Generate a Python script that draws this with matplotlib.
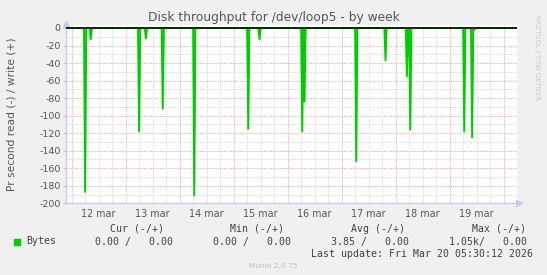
"""Munin style weekly disk throughput graph for /dev/loop5."""

import numpy as np
import matplotlib

matplotlib.use("Agg")
import matplotlib.pyplot as plt

# spikes of the read series: time in days after 12 mar 00:00, value (negated)
spike_days = [0.246, 0.344, 1.252, 1.381, 1.696, 2.259, 3.270, 3.474,
              4.270, 4.307, 5.270, 5.807, 6.215, 6.270, 7.265, 7.407, 7.450]
spike_vals = [-187, -13, -118, -12, -92, -191, -115, -13,
              -118, -84, -152, -37, -55, -116, -118, -125, -2]

day_labels = ["12 mar", "13 mar", "14 mar", "15 mar",
              "16 mar", "17 mar", "18 mar", "19 mar"]
y_ticks = [0, -20, -40, -60, -80, -100, -120, -140, -160, -180, -200]

legend_headers = ["Cur (-/+)", "Min (-/+)", "Avg (-/+)", "Max (-/+)"]
legend_values = ["0.00 /   0.00", "0.00 /   0.00", "3.85 /   0.00", "1.05k/   0.00"]

W, H = 547, 275
BG = "#f0f0f0"
GREEN = "#00cc00"
TXT = "#555555"
AXIS = "#c8c8f0"
MAJ = "#e8b0b0"
MIN = "#d8d8d8"

x_lo, x_hi = -0.1056, 8.246
y_lo, y_hi = -200, 3.4

# 30 minute samples across the week, zero except where a spike was recorded
step = 1 / 48
t = np.arange(x_lo, x_hi, step)
vals = np.zeros_like(t)
for d, v in zip(spike_days, spike_vals):
    vals[np.argmin(np.abs(t - d))] = v

fig = plt.figure(figsize=(W / 100, H / 100), dpi=100, facecolor=BG)
ax = fig.add_axes([66 / W, 1 - 203.3 / H, (517 - 66) / W, (203.3 - 25) / H])
ax.set_facecolor("white")
ax.set_xlim(x_lo, x_hi)
ax.set_ylim(y_lo, y_hi)

dots = (0, (1, 1))
for yv in range(-190, 1, 10):
    ax.axhline(yv, color=MAJ if yv % 20 == 0 else MIN, lw=0.8, ls=dots, zorder=1)
for d in np.arange(0, 8.5, 0.25):
    ax.axvline(d, color=MAJ if d % 1 == 0 else MIN, lw=0.8, ls=dots, zorder=1)

ax.fill_between(t, vals, 0, color="#7ee07e", lw=0, zorder=2)
ax.plot(t, vals, color=GREEN, lw=1.4, zorder=3)
ax.axhline(0, color="black", lw=1.1, zorder=4)

for side in ["top", "right"]:
    ax.spines[side].set_visible(False)
for side in ["left", "bottom"]:
    ax.spines[side].set_color(AXIS)
    ax.spines[side].set_linewidth(1)
ax.plot([x_lo], [y_hi + 1.5], marker="^", ms=4, color=AXIS, clip_on=False)
ax.plot([x_hi + 0.03], [y_lo], marker=">", ms=4, color=AXIS, clip_on=False)

ax.set_yticks(y_ticks)
ax.set_yticklabels([str(v) for v in y_ticks])
ax.set_xticks(np.arange(len(day_labels)) + 0.5)
ax.set_xticklabels(day_labels)
ax.tick_params(axis="x", length=0, pad=4, labelsize=6.9, labelcolor=TXT)
ax.tick_params(axis="y", length=2, color=MAJ, pad=2, labelsize=6.8, labelcolor=TXT)

fig.text(W / 2 / W, 1 - 18 / H, "Disk throughput for /dev/loop5 - by week",
         ha="center", va="center", fontsize=8.8, color=TXT)
fig.text(12 / W, 1 - 114 / H, "Pr second read (-) / write (+)",
         rotation=90, ha="center", va="center", fontsize=7.7, color=TXT)
fig.text(537 / W, 1 - 15 / H, "RRDTOOL / TOBI OETIKER", rotation=270,
         ha="center", va="top", fontsize=4.8, color="#cccccc")

mono = dict(family="DejaVu Sans Mono", fontsize=7.1, color="#404040", va="center")
col_right = [164, 284, 405, 526]
val_right = [173, 291, 409, 527]
for hx, h in zip(col_right, legend_headers):
    fig.text(hx / W, 1 - 228.6 / H, h, ha="right", **mono)
for vx, v in zip(val_right, legend_values):
    fig.text(vx / W, 1 - 241.5 / H, v, ha="right", **mono)
fig.patches.append(plt.Rectangle((14 / W, 1 - 244.5 / H), 5.5 / W, 5.5 / H,
                                 transform=fig.transFigure, color=GREEN))
fig.text(26 / W, 1 - 241.5 / H, "Bytes", ha="left", **mono)
fig.text(533 / W, 1 - 254 / H, "Last update: Fri Mar 20 05:30:12 2026",
         ha="right", **mono)
fig.text(273 / W, 1 - 266.3 / H, "Munin 2.0.75", ha="center", va="center",
         fontsize=5.3, color="#c0c0c0")

fig.savefig("out.png", dpi=100, facecolor=BG)
